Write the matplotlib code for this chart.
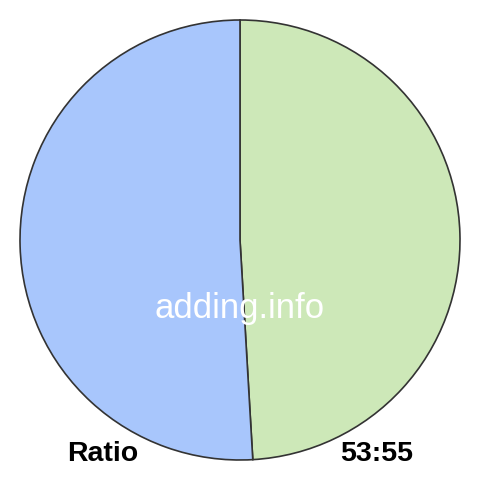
import matplotlib
matplotlib.use("Agg")
import matplotlib.pyplot as plt

labels = ["53", "55"]
values = [53, 55]
colors = ["#cde8b8", "#a8c6fc"]
ratio_text = "53:55"

plt.rcParams['font.family'] = ['Liberation Sans', 'DejaVu Sans']

fig = plt.figure(figsize=(4.8, 4.8), dpi=100)
ax = fig.add_axes([0, 0, 1, 1])

# pie radius 1 -> 220px, centre at (240, 240)
ax.pie(values, colors=colors, startangle=90, counterclock=False,
       wedgeprops=dict(edgecolor="#333333", linewidth=1.2))

lim = 240 / 220
ax.set_xlim(-lim, lim)
ax.set_ylim(-lim, lim)
ax.set_aspect("equal")
ax.axis("off")

ax.text(0, -0.355, "adding.info", color="white", fontsize=25,
        ha="center", va="baseline")
ax.text(-0.623, -1.005, "Ratio", fontsize=20.5, fontweight="bold",
        ha="center", va="baseline")
ax.text(0.623, -1.005, ratio_text, fontsize=20.5, fontweight="bold",
        ha="center", va="baseline")

fig.savefig("out.png", dpi=100)
